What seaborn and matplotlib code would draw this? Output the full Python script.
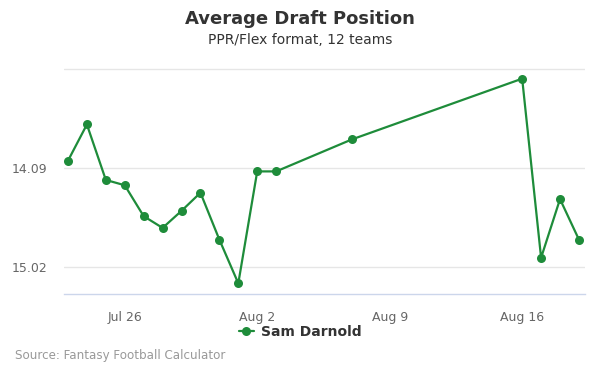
import pandas as pd
import numpy as np
import matplotlib
matplotlib.use("Agg")
import matplotlib.pyplot as plt
import matplotlib.dates as mdates
import seaborn as sns

# ADP values
dates = ["2020-07-23", "2020-07-24", "2020-07-25", "2020-07-26", "2020-07-27",
         "2020-07-28", "2020-07-29", "2020-07-30", "2020-07-31", "2020-08-01",
         "2020-08-02", "2020-08-03", "2020-08-07", "2020-08-16", "2020-08-17",
         "2020-08-18", "2020-08-19"]
adp = [14.02, 13.68, 14.20, 14.25, 14.54, 14.65, 14.49, 14.32, 14.76, 15.17,
       14.12, 14.12, 13.82, 13.25, 14.93, 14.38, 14.76]
player = "Sam Darnold"

y_ticks = [13.16, 14.09, 15.02]
y_tick_labels = ["", "14.09", "15.02"]
x_ticks = ["2020-07-26", "2020-08-02", "2020-08-09", "2020-08-16"]
x_tick_labels = ["Jul 26", "Aug 2", "Aug 9", "Aug 16"]

df = pd.DataFrame({"date": pd.to_datetime(dates), "adp": adp, "player": player})

sns.set_style("white")
plt.rcParams['font.family'] = ['DejaVu Sans']

line_color = "#1e8c3a"
fig = plt.figure(figsize=(6, 3.75), dpi=100)
ax = fig.add_axes([64 / 600, 1 - 294 / 375, 521 / 600, 226 / 375])

sns.lineplot(data=df, x="date", y="adp", hue="player", palette=[line_color],
             marker="o", markersize=6.5, markeredgewidth=0, linewidth=1.6, ax=ax)

jul26 = pd.Timestamp("2020-07-26")
ax.set_xlim(jul26 - pd.Timedelta(days=3.21), jul26 + pd.Timedelta(days=24.32))
ax.set_ylim(15.27, 13.15)

ax.set_yticks(y_ticks)
ax.set_yticklabels(y_tick_labels)
ax.set_xticks(pd.to_datetime(x_ticks))
ax.set_xticklabels(x_tick_labels)

ax.grid(axis="y", color="#e6e6e6", linewidth=1)
ax.grid(axis="x", visible=False)
for side in ["top", "right", "left"]:
    ax.spines[side].set_visible(False)
ax.spines["bottom"].set_color("#ccd6eb")
ax.spines["bottom"].set_linewidth(1)
ax.tick_params(axis="x", colors="#666666", labelsize=9, length=8, width=1,
               direction="out", pad=4)
ax.tick_params(axis="x", color="#ccd6eb")
ax.tick_params(axis="y", colors="#666666", labelsize=9, length=0, pad=12)
ax.set_xlabel("")
ax.set_ylabel("")

handles, labels = ax.get_legend_handles_labels()
ax.get_legend().remove()
leg = fig.legend(handles, labels, loc="center", bbox_to_anchor=(0.5, 1 - 332 / 375),
                 frameon=False, handlelength=1.1, handletextpad=0.5,
                 prop={"weight": "bold", "size": 10})
for t in leg.get_texts():
    t.set_color("#333333")

fig.text(0.5, 1 - 19 / 375, "Average Draft Position", ha="center", va="center",
         fontsize=13, fontweight="bold", color="#333333")
fig.text(0.5, 1 - 40 / 375, "PPR/Flex format, 12 teams", ha="center", va="center",
         fontsize=10, color="#333333")
fig.text(15 / 600, 1 - 356 / 375, "Source: Fantasy Football Calculator", ha="left",
         va="center", fontsize=8.6, color="#999999")

fig.savefig("out.png", dpi=100)
